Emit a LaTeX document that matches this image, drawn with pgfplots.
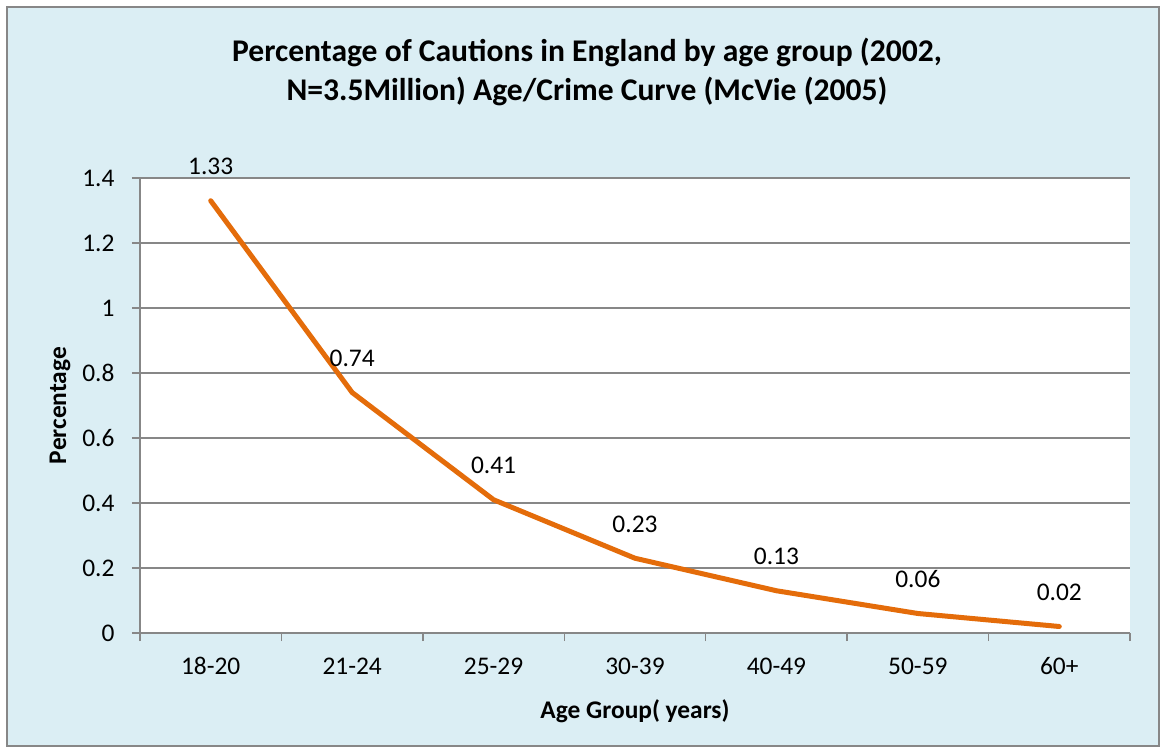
\documentclass[border=0pt]{standalone}
\usepackage{fontspec}
\setmainfont{Carlito}
\usepackage{pgfplots}
\pgfplotsset{compat=1.18}
\definecolor{chartbg}{HTML}{DBEEF4}
\definecolor{lineorange}{HTML}{E46C0A}
\definecolor{axisgray}{HTML}{878787}

\begin{document}
\begin{tikzpicture}
% page extent and chart frame
\path (0bp,0bp) rectangle (1166bp,753bp);
\draw[axisgray, line width=1.5bp, fill=chartbg] (7bp,7bp) rectangle (1159bp,746bp);
\node[font=\fontsize{31.7}{40}\selectfont\bfseries, align=center] at (587bp,681bp)
  {Percentage of Cautions in England by age group (2002,\\N=3.5Million) Age/Crime Curve (McVie (2005)};
\begin{axis}[
  at={(140bp,120bp)}, anchor=south west,
  width=990bp, height=455bp, scale only axis,
  xmin=-0.5, xmax=6.5, ymin=0, ymax=1.4,
  axis background/.style={fill=white},
  axis x line*=bottom, axis y line*=left,
  axis line style={-, draw=axisgray, line width=1.5bp},
  tick style={draw=axisgray, line width=1.5bp},
  tick align=outside, major tick length=8bp,
  xtick={-0.5,0.5,1.5,2.5,3.5,4.5,5.5,6.5},
  x tick label as interval,
  xticklabels={18-20,21-24,25-29,30-39,40-49,50-59,60+},
  ytick={0,0.2,0.4,0.6,0.8,1,1.2,1.4},
  yticklabels={0,0.2,0.4,0.6,0.8,1,1.2,1.4},
  ymajorgrids, grid style={draw=axisgray, line width=1.5bp},
  tick label style={font=\fontsize{25.5}{30}\selectfont},
  yticklabel style={xshift=-14bp},
  xticklabel style={yshift=-13bp},
  label style={font=\fontsize{25.5}{30}\selectfont\bfseries},
  xlabel={Age Group( years)},
  ylabel={Percentage},
  xlabel style={at={(axis description cs:0.5,-0.1714)}, anchor=center},
  ylabel style={at={(axis description cs:-0.0808,0.5)}, anchor=center},
  point meta=explicit symbolic,
  nodes near coords,
  every node near coord/.append style={anchor=center, yshift=34bp,
    text=black, font=\fontsize{25.5}{30}\selectfont},
  clip=false,
]
\addplot[lineorange, line width=5bp, line cap=round, line join=round]
  table[meta=lab] {
x y lab
0 1.33 1.33
1 0.74 0.74
2 0.41 0.41
3 0.23 0.23
4 0.13 0.13
5 0.06 0.06
6 0.02 0.02
};
\end{axis}
\end{tikzpicture}
\end{document}
